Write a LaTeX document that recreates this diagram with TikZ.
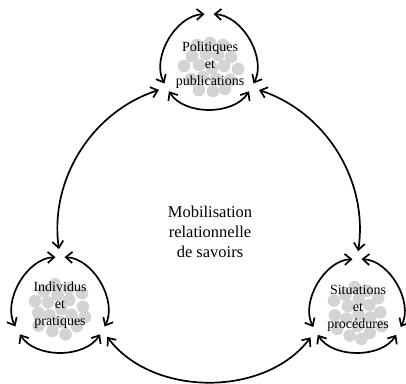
\documentclass[tikz,border=0pt]{standalone}
\usepackage{fontspec}
\setmainfont{Liberation Serif}
\usetikzlibrary{arrows.meta,calc}
\tikzset{
  arr/.style={line width=1.7pt, <->, >={Straight Barb[length=6.5pt,width=11pt]}},
  smallarc/.style={arr, shorten >=4.5pt, shorten <=4.5pt, bend right=58},
  bigarc/.style={arr, shorten >=8pt, shorten <=8pt},
  dot/.style={fill=black!17, draw=none},
  lbl/.style={align=center, font=\fontsize{14}{17}\selectfont, inner sep=0pt},
  midlbl/.style={align=center, font=\fontsize{16.5}{20}\selectfont, inner sep=0pt}
}
\newcommand{\dotcluster}{%
  \foreach \dx/\dy in {1/-1,13/1,-12/2,27/-2,-27/1,7/12,-5/13,20/10,-19/11,5/-12,-8/-10,19/-13,-20/-12,-1/24,12/22,-14/22,2/-24,14/-22,-12/-23}
    {\fill[dot] (\dx,\dy) circle (6.3);}%
}
\begin{document}
\begin{tikzpicture}[x=1pt,y=1pt]
\useasboundingbox (0,0) rectangle (406,383);
% centres of the three small circles
\coordinate (T) at (209,320);
\coordinate (L) at (60,77);
\coordinate (R) at (357,76);
% vertices
\coordinate (T1) at ($(T)+(90:49)$);
\coordinate (T2) at ($(T)+(210:49)$);
\coordinate (T3) at ($(T)+(330:49)$);
\coordinate (L1) at ($(L)+(90:49)$);
\coordinate (L2) at ($(L)+(210:49)$);
\coordinate (L3) at ($(L)+(330:49)$);
\coordinate (R1) at ($(R)+(90:48)$);
\coordinate (R2) at ($(R)+(210:48)$);
\coordinate (R3) at ($(R)+(330:48)$);
% dot clusters
\begin{scope}[shift={(211,316)}]\dotcluster\end{scope}
\begin{scope}[shift={(60,74)},rotate=40]\dotcluster\end{scope}
\begin{scope}[shift={(358,70)},rotate=-25]\dotcluster\end{scope}
% labels
\node[lbl] (tl) at (210,318) {Politiques\\et\\publications};
\node[lbl] (ll) at (60,78) {Individus\\et\\pratiques};
\node[lbl] (rl) at (358,75) {Situations\\et\\procédures};
\node[midlbl] (ml) at (210,151) {Mobilisation\\relationnelle\\de savoirs};
% small circle arcs
\draw[smallarc] (T1) to (T2);
\draw[smallarc] (T2) to (T3);
\draw[smallarc] (T3) to (T1);
\draw[smallarc] (L1) to (L2);
\draw[smallarc] (L2) to (L3);
\draw[smallarc] (L3) to (L1);
\draw[smallarc] (R1) to (R2);
\draw[smallarc] (R2) to (R3);
\draw[smallarc] (R3) to (R1);
% big arcs
\draw[bigarc] (T2) to[bend right=40] (L1);
\draw[bigarc] (L3) to[bend right=53] (R2);
\draw[bigarc] (R1) to[bend right=40] (T3);
\end{tikzpicture}
\end{document}
